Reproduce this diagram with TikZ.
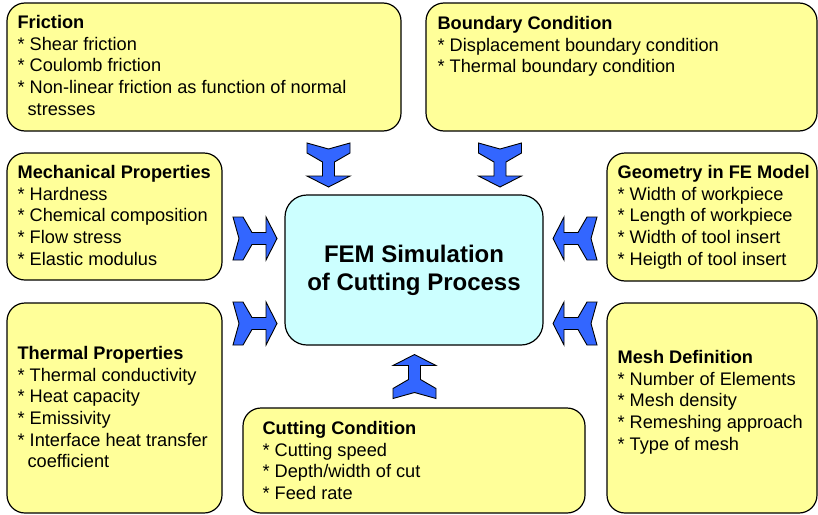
\documentclass[tikz,border=0pt]{standalone}
\usepackage{fontspec}
\setmainfont{Liberation Sans}
\usetikzlibrary{positioning}

\definecolor{boxyellow}{RGB}{255,255,153}
\definecolor{femcyan}{RGB}{204,255,255}
\definecolor{arrowblue}{RGB}{51,102,255}

\tikzset{
  infobox/.style={draw=black, line width=1.2pt, fill=boxyellow, rounded corners=18pt, inner sep=0pt},
  fembox/.style={draw=black, line width=1.2pt, fill=femcyan, rounded corners=22pt, inner sep=0pt},
  infotext/.style={inner sep=0pt, align=left, font=\fontsize{18.2}{21.6}\selectfont},
  femtext/.style={inner sep=0pt, align=center, font=\bfseries\fontsize{24}{28}\selectfont},
  yarrow/.pic={
    \draw[line width=0.9pt, fill=arrowblue, line join=miter]
      (-21.5,-22) -- (0,-16) -- (21.5,-22) -- (21.5,-12) -- (6,-3) -- (6,11)
      -- (21.5,11) -- (0,22) -- (-21.5,11) -- (-6,11) -- (-6,-3) -- (-21.5,-12) -- cycle;
  }
}

\begin{document}
\begin{tikzpicture}[line cap=round,line join=round,x=1pt,y=-1pt]
\useasboundingbox (0,0) rectangle (818,514);
\clip (0,0) rectangle (818,514);

% boxes
\node[infobox, minimum width=394, minimum height=128] (fric) at (204,67) {};
\node[infobox, minimum width=391, minimum height=128] (bound) at (621.5,67) {};
\node[infobox, minimum width=215, minimum height=127] (mech) at (114.5,216.5) {};
\node[infobox, minimum width=210, minimum height=128] (geom) at (712,217) {};
\node[infobox, minimum width=215, minimum height=210] (therm) at (114.5,408) {};
\node[infobox, minimum width=210, minimum height=210] (mesh) at (712,408) {};
\node[infobox, minimum width=342, minimum height=105] (cut) at (414,460.5) {};
\node[fembox, minimum width=258, minimum height=150] (fem) at (414,270) {};

% texts
\node[infotext, below right=13pt and 11pt of fric.north west] (frictxt)
  {\textbf{Friction}\\* Shear friction\\* Coulomb friction\\* Non-linear friction as function of normal\\\hspace*{10pt}stresses};
\node[infotext, below right=14pt and 12pt of bound.north west] (boundtxt)
  {\textbf{Boundary Condition}\\* Displacement boundary condition\\* Thermal boundary condition};
\node[infotext, below right=13pt and 11pt of mech.north west] (mechtxt)
  {\textbf{Mechanical Properties}\\* Hardness\\* Chemical composition\\* Flow stress\\* Elastic modulus};
\node[infotext, below right=13pt and 11pt of geom.north west] (geomtxt)
  {\textbf{Geometry in FE Model}\\* Width of workpiece\\* Length of workpiece\\* Width of tool insert\\* Heigth of tool insert};
\node[infotext, below right=44pt and 11pt of therm.north west] (thermtxt)
  {\textbf{Thermal Properties}\\* Thermal conductivity\\* Heat capacity\\* Emissivity\\* Interface heat transfer\\\hspace*{10pt}coefficient};
\node[infotext, below right=48pt and 11pt of mesh.north west] (meshtxt)
  {\textbf{Mesh Definition}\\* Number of Elements\\* Mesh density\\* Remeshing approach\\* Type of mesh};
\node[infotext, below right=14pt and 20pt of cut.north west] (cuttxt)
  {\textbf{Cutting Condition}\\* Cutting speed\\* Depth/width of cut\\* Feed rate};
\node[femtext] (femtxt) at (fem.center) {FEM Simulation\\of Cutting Process};

% block arrows into the centre
\pic at (328.5,165) {yarrow};
\pic at (500,165) {yarrow};
\pic[rotate=90] at (255,238.5) {yarrow};
\pic[rotate=90] at (255,323.5) {yarrow};
\pic[rotate=-90] at (575,238.5) {yarrow};
\pic[rotate=-90] at (575,323.5) {yarrow};
\pic[rotate=180] at (414.5,376.5) {yarrow};
\end{tikzpicture}
\end{document}
